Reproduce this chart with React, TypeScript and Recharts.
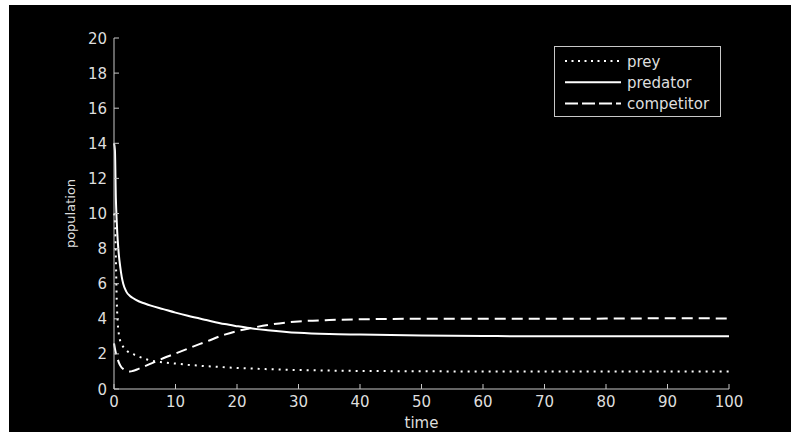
import React from 'react';
import { LineChart, Line, XAxis, YAxis, Legend, Label } from 'recharts';

const time = [0, 0.15, 0.3, 0.45, 0.6, 0.8, 1, 1.25, 1.5, 2, 2.6, 3, 4, 5, 6, 8, 10, 12, 15, 18, 20, 22, 25, 30, 35, 40, 50, 60, 70, 80, 90, 100];
const prey = [10, 9.5, 7.5, 5.0, 3.8, 3.1, 2.75, 2.55, 2.4, 2.2, 2.05, 2.0, 1.85, 1.72, 1.62, 1.52, 1.45, 1.38, 1.3, 1.24, 1.2, 1.17, 1.13, 1.08, 1.05, 1.03, 1.01, 1.0, 1.0, 1.0, 1.0, 1.0];
const predator = [14, 13.6, 10.9, 9.5, 8.5, 7.6, 7.0, 6.4, 6.0, 5.55, 5.3, 5.2, 5.0, 4.87, 4.75, 4.55, 4.35, 4.17, 3.93, 3.7, 3.58, 3.47, 3.35, 3.2, 3.13, 3.1, 3.05, 3.02, 3.0, 3.0, 3.0, 3.0];
const competitor = [2.6, 2.3, 2.05, 1.85, 1.7, 1.5, 1.35, 1.22, 1.15, 1.05, 1.0, 1.02, 1.15, 1.3, 1.45, 1.75, 2.02, 2.3, 2.7, 3.1, 3.3, 3.45, 3.65, 3.85, 3.93, 3.97, 4.0, 4.0, 4.0, 4.01, 4.03, 4.02];

const xTicks = [0, 10, 20, 30, 40, 50, 60, 70, 80, 90, 100];
const yTicks = [0, 2, 4, 6, 8, 10, 12, 14, 16, 18, 20];
const xLabel = 'time';
const yLabel = 'population';

const series = [
  { key: 'prey', name: 'prey', dash: '2 5', legendDash: '2 4.5' },
  { key: 'predator', name: 'predator', dash: undefined as string | undefined, legendDash: undefined as string | undefined },
  { key: 'competitor', name: 'competitor', dash: '11 6', legendDash: '13 4' },
];

const data = time.map((t, i) => ({
  time: t,
  prey: prey[i],
  predator: predator[i],
  competitor: competitor[i],
}));

const AXIS = '#c8c8c8';
const TEXT = '#dedede';
const FONT = '"DejaVu Sans", Verdana, sans-serif';

const BottomTick = (props: any) => {
  const { x, y, payload } = props;
  return (
    <g>
      <line x1={x} y1={y} x2={x} y2={y - 5} stroke={AXIS} strokeWidth={1} />
      <text x={x} y={y + 18} textAnchor="middle" fill={TEXT} fontSize={15} fontFamily={FONT}>
        {payload.value}
      </text>
    </g>
  );
};

const LeftTick = (props: any) => {
  const { x, y, payload } = props;
  return (
    <g>
      <line x1={x} y1={y} x2={x + 5} y2={y} stroke={AXIS} strokeWidth={1} />
      <text x={x - 7} y={y + 5.5} textAnchor="end" fill={TEXT} fontSize={15} fontFamily={FONT}>
        {payload.value}
      </text>
    </g>
  );
};

const TopTick = (props: any) => {
  const { x, y } = props;
  return <line x1={x} y1={y} x2={x} y2={y + 5} stroke={AXIS} strokeWidth={1} />;
};

const RightTick = (props: any) => {
  const { x, y } = props;
  return <line x1={x} y1={y} x2={x - 5} y2={y} stroke={AXIS} strokeWidth={1} />;
};

const XLabelContent = (props: any) => {
  const vb = props.viewBox || {};
  return (
    <text x={vb.x + vb.width / 2} y={vb.y + 39} textAnchor="middle" fill={TEXT} fontSize={15} fontFamily={FONT}>
      {xLabel}
    </text>
  );
};

const YLabelContent = (props: any) => {
  const vb = props.viewBox || {};
  const cx = vb.x + 16;
  const cy = vb.y + vb.height / 2;
  return (
    <text
      x={cx}
      y={cy}
      transform={`rotate(-90, ${cx}, ${cy})`}
      textAnchor="middle"
      dominantBaseline="central"
      fill={TEXT}
      fontSize={13}
      fontFamily={FONT}
    >
      {yLabel}
    </text>
  );
};

const LegendContent = () => (
  <svg width={167} height={71} style={{ display: 'block' }}>
    <rect x={0.5} y={0.5} width={166} height={70} fill="#000" stroke={AXIS} strokeWidth={1} />
    {series.map((s, i) => {
      const cy = 15 + i * 21.3;
      return (
        <g key={s.key}>
          <line x1={11} y1={cy} x2={67} y2={cy} stroke="#fff" strokeWidth={2} strokeDasharray={s.legendDash} />
          <text x={73} y={cy + 5.5} fill={TEXT} fontSize={15} fontFamily={FONT}>
            {s.name}
          </text>
        </g>
      );
    })}
  </svg>
);

export default function App() {
  return (
    <div style={{ position: 'absolute', left: 9, top: 5, width: 782, height: 427, background: '#000' }}>
      <LineChart width={782} height={427} data={data} margin={{ top: 33, right: 62, bottom: 13, left: 45 }}>
        <XAxis
          xAxisId={0}
          dataKey="time"
          type="number"
          domain={[0, 100]}
          ticks={xTicks}
          interval={0}
          height={30}
          tickSize={0}
          tickMargin={0}
          tickLine={false}
          axisLine={{ stroke: AXIS }}
          tick={<BottomTick />}
        >
          <Label content={<XLabelContent />} />
        </XAxis>
        <XAxis
          xAxisId="top"
          orientation="top"
          dataKey="time"
          type="number"
          domain={[0, 100]}
          ticks={xTicks}
          interval={0}
          height={0}
          tickSize={0}
          tickMargin={0}
          tickLine={false}
          axisLine={{ stroke: AXIS }}
          tick={<TopTick />}
        />
        <YAxis
          yAxisId={0}
          type="number"
          domain={[0, 20]}
          ticks={yTicks}
          interval={0}
          width={60}
          tickSize={0}
          tickMargin={0}
          tickLine={false}
          axisLine={{ stroke: AXIS }}
          tick={<LeftTick />}
        >
          <Label content={<YLabelContent />} />
        </YAxis>
        <YAxis
          yAxisId="right"
          orientation="right"
          type="number"
          domain={[0, 20]}
          ticks={yTicks}
          interval={0}
          width={0}
          tickSize={0}
          tickMargin={0}
          tickLine={false}
          axisLine={{ stroke: AXIS }}
          tick={<RightTick />}
        />
        {series.map((s) => (
          <Line
            key={s.key}
            xAxisId={0}
            yAxisId={0}
            type="monotone"
            dataKey={s.key}
            name={s.name}
            stroke="#ffffff"
            strokeWidth={2}
            strokeDasharray={s.dash}
            dot={false}
            activeDot={false}
            isAnimationActive={false}
          />
        ))}
        <Legend
          layout="horizontal"
          verticalAlign="middle"
          align="center"
          content={<LegendContent />}
          wrapperStyle={{ position: 'absolute', left: 545, top: 41, width: 167, height: 71 }}
        />
      </LineChart>
    </div>
  );
}
